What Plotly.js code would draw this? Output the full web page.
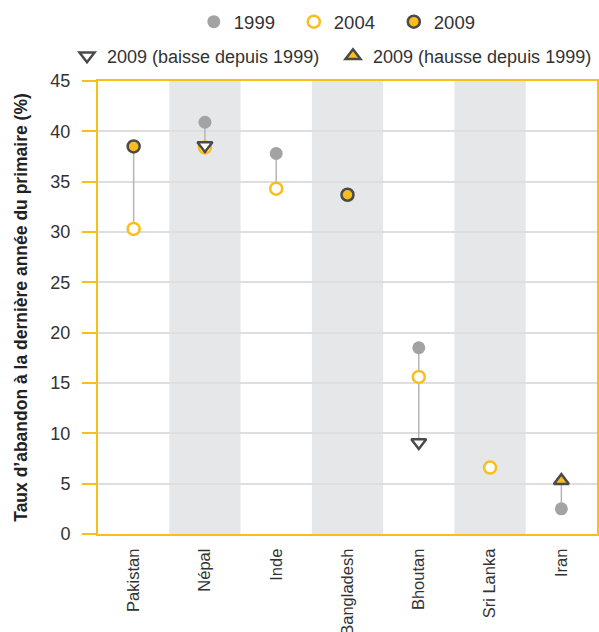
<!DOCTYPE html>
<html><head><meta charset="utf-8">
<script src="https://cdn.plot.ly/plotly-3.0.1.min.js"></script>
<style>html,body{margin:0;padding:0;background:#fff}#c{width:599px;height:632px}</style>
</head><body><div id="c"></div>
<script>
const categories = ['Pakistan','Népal','Inde','Bangladesh','Bhoutan','Sri Lanka','Iran'];
const v1999 = [null, 40.9, 37.8, null, 18.5, null, 2.5];
const v2004 = [30.3, 38.4, 34.3, null, 15.6, 6.6, null];
const v2009 = [38.5, 38.6, null, 33.7, 9.1, null, 5.3];
const yTicks = [0,5,10,15,20,25,30,35,40,45];

const YEL = '#fbbd19', DARK = '#4a4a4a', GRAY = '#a3a3a3', TXT = '#333333';

// connector lines
const lx = [], ly = [];
categories.forEach((c,i)=>{
  const vals = [v1999[i], v2004[i], v2009[i]].filter(v=>v!==null);
  if (vals.length > 1) { lx.push(c,c,null); ly.push(Math.min(...vals), Math.max(...vals), null); }
});
// 2009 split
const y09c = [], y09d = [], y09u = [];
categories.forEach((c,i)=>{
  const a = v1999[i], b = v2009[i];
  let cc=null, dd=null, uu=null;
  if (b!==null) {
    if (a===null) cc=b; else if (b<a) dd=b; else uu=b;
  }
  y09c.push(cc); y09d.push(dd); y09u.push(uu);
});

const traces = [
  {x:lx, y:ly, mode:'lines', line:{color:'#b5b5b5', width:1.5}, showlegend:false, hoverinfo:'skip'},
  {x:categories, y:v1999, name:'1999', mode:'markers', legend:'legend',
   marker:{symbol:'circle', size:13, color:GRAY, line:{width:0}}},
  {x:categories, y:v2004, name:'2004', mode:'markers', legend:'legend',
   marker:{symbol:'circle', size:12, color:'#ffffff', line:{color:YEL, width:2.5}}},
  {x:categories, y:y09c, name:'2009', mode:'markers', legend:'legend',
   marker:{symbol:'circle', size:12, color:YEL, line:{color:DARK, width:2.5}}},
  {x:categories, y:y09d, name:'2009 (baisse depuis 1999)', mode:'markers', legend:'legend2',
   marker:{symbol:'triangle-down', size:13, color:'#ffffff', line:{color:DARK, width:2.5}}},
  {x:categories, y:y09u, name:'2009 (hausse depuis 1999)', mode:'markers', legend:'legend2',
   marker:{symbol:'triangle-up', size:13, color:YEL, line:{color:DARK, width:2.5}}}
];

const shapes = categories.map((c,i)=> i%2===1 ? {
  type:'rect', xref:'x', yref:'paper', x0:i-0.5, x1:i+0.5, y0:0, y1:1,
  fillcolor:'#e6e7e8', line:{width:0}, layer:'below'} : null).filter(s=>s);

const layout = {
  width:599, height:632,
  margin:{l:98, r:2, t:81, b:98},
  paper_bgcolor:'#fff', plot_bgcolor:'#fff',
  font:{family:'Liberation Sans, Arial, sans-serif', color:TXT, size:16},
  shapes: shapes,
  xaxis:{type:'category', categoryarray:categories, range:[-0.5, categories.length-0.5],
    showgrid:false, zeroline:false, showline:true, linecolor:YEL, linewidth:2, mirror:true,
    ticks:'', tickangle:-90, tickfont:{size:16.5, color:TXT}, ticklabelstandoff:6},
  yaxis:{range:[0,45], tickvals:yTicks, showgrid:true, gridcolor:'#dedede', gridwidth:2,
    zeroline:false, showline:true, linecolor:YEL, linewidth:2, mirror:true,
    ticks:'outside', ticklen:14, tickwidth:2, tickcolor:YEL, ticklabelstandoff:8,
    tickfont:{size:18, color:TXT},
    title:{text:'Taux d’abandon à la dernière année du primaire (%)', standoff:18,
      font:{size:17.5, color:'#222', family:'Liberation Sans, Arial, sans-serif', weight:'bold'}}},
  legend:{orientation:'h', x:0.192, xanchor:'left', y:1.13, yanchor:'middle', entrywidth:55,
    font:{size:18.5, color:TXT}, itemclick:false, bgcolor:'rgba(0,0,0,0)'},
  legend2:{orientation:'h', x:-0.032, xanchor:'left', y:1.055, yanchor:'middle', entrywidth:221,
    font:{size:18, color:TXT}, itemclick:false, bgcolor:'rgba(0,0,0,0)'},
  showlegend:true
};
Plotly.newPlot('c', traces, layout, {displayModeBar:false, staticPlot:true});
</script></body></html>
